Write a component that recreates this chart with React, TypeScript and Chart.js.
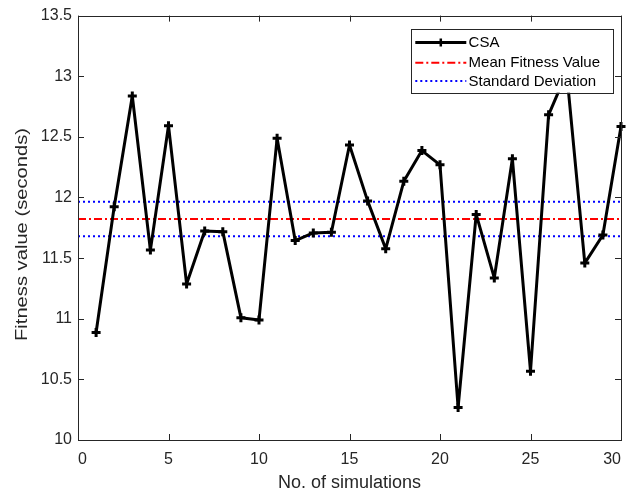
import React, { useEffect, useRef } from "react";
import { Chart, registerables } from "chart.js";

Chart.register(...registerables);

const simulations = [1, 2, 3, 4, 5, 6, 7, 8, 9, 10, 11, 12, 13, 14, 15, 16, 17, 18, 19, 20, 21, 22, 23, 24, 25, 26, 27, 28, 29, 30];
const fitnessValues = [
  10.886, 11.923, 12.837, 11.566, 12.592, 11.287, 11.724, 11.718, 11.009, 10.99,
  12.488, 11.645, 11.708, 11.713, 12.433, 11.972, 11.577, 12.133, 12.387, 12.269,
  10.268, 11.86, 11.337, 12.319, 10.567, 12.682, 13.03, 11.459, 11.691, 12.586,
];
const meanFitness = 11.822;
const stdUpper = 11.964;
const stdLower = 11.68;
const xTicks = [0, 5, 10, 15, 20, 25, 30];
const yTicks = [10, 10.5, 11, 11.5, 12, 12.5, 13, 13.5];
const legendLabels = ["CSA", "Mean Fitness Value", "Standard Deviation"];
const xTitle = "No. of simulations";
const yTitle = "Fitness value (seconds)";

const FONT = "'Liberation Sans', Arial, Helvetica, sans-serif";
const AXIS_COLOR = "#262626";
const RED_DASH = [8, 3, 2, 3];
const BLUE_DOT = [2, 3];

const framePlugin = {
  id: "framePlugin",
  afterDatasetsDraw(chart: any) {
    const { ctx, chartArea } = chart;
    const xs = chart.scales.x;
    const ys = chart.scales.y;
    const { left, right, top, bottom } = chartArea;
    ctx.save();
    // box
    ctx.strokeStyle = AXIS_COLOR;
    ctx.lineWidth = 1;
    ctx.setLineDash([]);
    ctx.strokeRect(Math.round(left) + 0.5, Math.round(top) + 0.5, Math.round(right - left), Math.round(bottom - top));
    // inward ticks
    const tl = 6;
    ctx.beginPath();
    xTicks.forEach((v) => {
      const px = Math.round(xs.getPixelForValue(v)) + 0.5;
      ctx.moveTo(px, bottom);
      ctx.lineTo(px, bottom - tl);
      ctx.moveTo(px, top);
      ctx.lineTo(px, top + tl);
    });
    yTicks.forEach((v) => {
      const py = Math.round(ys.getPixelForValue(v)) + 0.5;
      ctx.moveTo(left, py);
      ctx.lineTo(left + tl, py);
      ctx.moveTo(right, py);
      ctx.lineTo(right - tl, py);
    });
    ctx.stroke();

    // legend
    const lx = right - 210;
    const ly = top + 13.5;
    const lw = 201.6;
    const lh = 63.6;
    ctx.fillStyle = "#ffffff";
    ctx.fillRect(lx, ly, lw, lh);
    ctx.strokeStyle = AXIS_COLOR;
    ctx.lineWidth = 1;
    ctx.strokeRect(Math.round(lx) + 0.5, Math.round(ly) + 0.5, Math.round(lw), Math.round(lh));
    const rows = [ly + 13.3, ly + 33.6, ly + 52];
    const sx0 = lx + 4.3;
    const sx1 = lx + 55.3;
    // CSA
    ctx.strokeStyle = "#000000";
    ctx.lineWidth = 3;
    ctx.setLineDash([]);
    ctx.beginPath();
    ctx.moveTo(sx0, rows[0]);
    ctx.lineTo(sx1, rows[0]);
    ctx.stroke();
    const mx = (sx0 + sx1) / 2;
    ctx.lineWidth = 2.5;
    ctx.beginPath();
    ctx.moveTo(mx - 4, rows[0]);
    ctx.lineTo(mx + 4, rows[0]);
    ctx.moveTo(mx, rows[0] - 4);
    ctx.lineTo(mx, rows[0] + 4);
    ctx.stroke();
    // mean
    ctx.strokeStyle = "#ff0000";
    ctx.lineWidth = 2;
    ctx.setLineDash(RED_DASH);
    ctx.beginPath();
    ctx.moveTo(sx0, rows[1]);
    ctx.lineTo(sx1, rows[1]);
    ctx.stroke();
    // std
    ctx.strokeStyle = "#0000ff";
    ctx.setLineDash(BLUE_DOT);
    ctx.beginPath();
    ctx.moveTo(sx0, rows[2]);
    ctx.lineTo(sx1, rows[2]);
    ctx.stroke();
    ctx.setLineDash([]);
    ctx.fillStyle = "#000000";
    ctx.font = `15px ${FONT}`;
    ctx.textAlign = "left";
    ctx.textBaseline = "middle";
    legendLabels.forEach((t, i) => ctx.fillText(t, lx + 57.6, rows[i] + 0.5));

    // y title (stretched along its length)
    ctx.save();
    ctx.translate(22.5, 234.5);
    ctx.rotate(-Math.PI / 2);
    ctx.font = `17px ${FONT}`;
    const w = ctx.measureText(yTitle).width;
    ctx.scale(213 / w, 1);
    ctx.fillStyle = AXIS_COLOR;
    ctx.textAlign = "center";
    ctx.textBaseline = "middle";
    ctx.fillText(yTitle, 0, 0);
    ctx.restore();

    ctx.restore();
  },
};

export default function App() {
  const canvasRef = useRef<HTMLCanvasElement | null>(null);

  useEffect(() => {
    document.body.style.margin = "0";
    const canvas = canvasRef.current;
    if (!canvas) return;
    const chart = new Chart(canvas, {
      type: "line",
      data: {
        datasets: [
          {
            label: legendLabels[0],
            data: simulations.map((s, i) => ({ x: s, y: fitnessValues[i] })),
            borderColor: "#000000",
            backgroundColor: "#000000",
            borderWidth: 3,
            borderJoinStyle: "round",
            borderCapStyle: "round",
            pointStyle: "cross",
            pointRadius: 4.5,
            pointBorderWidth: 3,
            pointBorderColor: "#000000",
            tension: 0,
            clip: false,
            order: 0,
          },
          {
            label: legendLabels[1],
            data: [
              { x: xTicks[0], y: meanFitness },
              { x: xTicks[xTicks.length - 1], y: meanFitness },
            ],
            borderColor: "#ff0000",
            borderWidth: 2,
            borderDash: RED_DASH,
            pointRadius: 0,
            order: 1,
          },
          {
            label: legendLabels[2],
            data: [
              { x: xTicks[0], y: stdUpper },
              { x: xTicks[xTicks.length - 1], y: stdUpper },
            ],
            borderColor: "#0000ff",
            borderWidth: 2,
            borderDash: BLUE_DOT,
            pointRadius: 0,
            order: 2,
          },
          {
            label: legendLabels[2] + " (lower)",
            data: [
              { x: xTicks[0], y: stdLower },
              { x: xTicks[xTicks.length - 1], y: stdLower },
            ],
            borderColor: "#0000ff",
            borderWidth: 2,
            borderDash: BLUE_DOT,
            pointRadius: 0,
            order: 2,
          },
        ],
      },
      options: {
        animation: false,
        responsive: false,
        maintainAspectRatio: false,
        layout: { padding: { left: 0, right: 20, top: 12, bottom: 0 } },
        plugins: { legend: { display: false }, tooltip: { enabled: false } },
        scales: {
          x: {
            type: "linear",
            min: 0,
            max: 30,
            afterBuildTicks: (s: any) => {
              s.ticks = xTicks.map((v) => ({ value: v }));
            },
            afterFit: (s: any) => {
              s.height = 54;
            },
            grid: { display: false, drawTicks: false },
            border: { display: false },
            ticks: {
              autoSkip: false,
              maxRotation: 0,
              align: "inner",
              padding: 10,
              color: AXIS_COLOR,
              font: { family: FONT, size: 16 },
              callback: (v: any) => String(v),
            },
            title: {
              display: true,
              text: xTitle,
              color: AXIS_COLOR,
              font: { family: FONT, size: 18 },
              padding: { top: 0, bottom: 0 },
            },
          },
          y: {
            type: "linear",
            min: 10,
            max: 13.5,
            afterBuildTicks: (s: any) => {
              s.ticks = yTicks.map((v) => ({ value: v }));
            },
            afterFit: (s: any) => {
              s.width = 78;
            },
            grid: { display: false, drawTicks: false },
            border: { display: false },
            ticks: {
              autoSkip: false,
              padding: 6,
              color: AXIS_COLOR,
              font: { family: FONT, size: 16 },
              callback: (v: any) => String(v),
            },
          },
        },
      },
      plugins: [framePlugin],
    } as any);
    return () => chart.destroy();
  }, []);

  return (
    <div style={{ width: 641, height: 494 }}>
      <canvas ref={canvasRef} width={641} height={494} />
    </div>
  );
}
